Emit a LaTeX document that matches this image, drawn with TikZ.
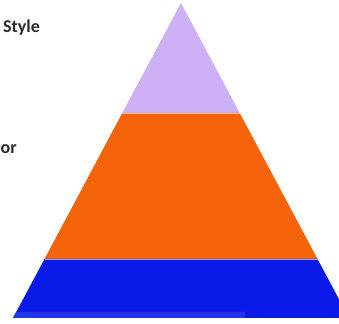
\documentclass[tikz,border=0pt]{standalone}
\usepackage{fontspec}
\setmainfont{Carlito}
\usepackage{tikz}
\usetikzlibrary{calc}
\definecolor{Lavender}{HTML}{CDB0F5}
\definecolor{Flame}{HTML}{F5630A}
\definecolor{Royal}{HTML}{0A1AE6}
\definecolor{RoyalLight}{HTML}{2234EA}
\definecolor{Ink}{HTML}{2B2B2B}
\tikzset{
  tier/.style={draw=none},
  seam/.style={draw=white,opacity=.55,line width=.6pt},
  sidetext/.style={font=\fontsize{18}{20}\selectfont\bfseries,text=Ink,inner sep=0pt},
}

\begin{document}
\begin{tikzpicture}[x=1pt,y=1pt]
        \useasboundingbox (0,0) rectangle (339,323);
        \clip (0,0) rectangle (339,323);
        % pyramid corners
        \coordinate (apex) at (181,320);
        \coordinate (l1) at (122.3,210);
        \coordinate (r1) at (239.7,210);
        \coordinate (l2) at (44.5,64);
        \coordinate (r2) at (317.5,64);
        \coordinate (l3) at (13,5);
        \coordinate (r3) at (349,5);
        \fill[tier,Lavender] (apex) -- (r1) -- (l1) -- cycle;
        \fill[tier,Flame] (l1) -- (r1) -- (r2) -- (l2) -- cycle;
        \fill[tier,Royal] (l2) -- (r2) -- (r3) -- (l3) -- cycle;
        \fill[RoyalLight] (l3) -- ($(l3)+(3.2,6)$) -- (245,11) -- (245,5) -- cycle;
        \draw[seam] (l1) -- (r1);
        \draw[seam] (l2) -- (r2);
        \node[sidetext,anchor=base east] (style) at (40,290) {Style};
        \node[sidetext,anchor=base west] (or) at (0.5,169) {or};
      \end{tikzpicture}
\end{document}
